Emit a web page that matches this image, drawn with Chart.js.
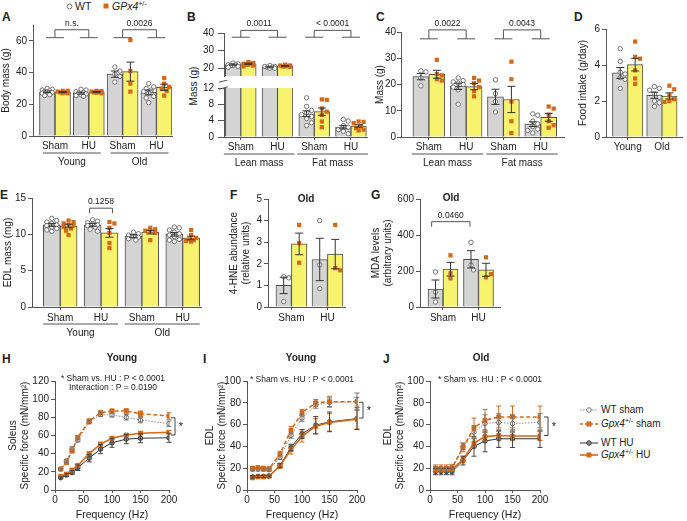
<!DOCTYPE html>
<html>
<head>
<meta charset="utf-8">
<script src="https://cdn.jsdelivr.net/npm/chart.js@4.4.1/dist/chart.umd.min.js"></script>
<style>
  html, body { margin: 0; padding: 0; background: #fff; }
  body { position: relative; width: 687px; height: 521px; overflow: hidden; font-family: 'Liberation Sans', Arial, sans-serif; color: #222; }
  canvas { position: absolute; }
  .tag { position: absolute; font-weight: bold; font-size: 12px; line-height: 12px; }
  .note { position: absolute; font-size: 10px; line-height: 12px; white-space: nowrap; }
  .note svg { vertical-align: middle; margin-right: 3px; }
  .note sup { font-size: 7px; vertical-align: 4px; line-height: 0; }
  .rot { position: absolute; font-size: 10px; white-space: nowrap; transform: translate(-50%, -50%) rotate(-90deg); }
</style>
</head>
<body>
<div class="tag" style="left:2px;top:11px">A</div>
<div class="tag" style="left:187px;top:11px">B</div>
<div class="tag" style="left:376px;top:11px">C</div>
<div class="tag" style="left:574px;top:11px">D</div>
<div class="tag" style="left:0px;top:189px">E</div>
<div class="tag" style="left:230px;top:189px">F</div>
<div class="tag" style="left:371px;top:189px">G</div>
<div class="tag" style="left:2px;top:353px">H</div>
<div class="tag" style="left:203px;top:353px">I</div>
<div class="tag" style="left:383px;top:353px">J</div>

<svg style="position:absolute;left:66px;top:3px" width="7" height="7"><circle cx="3.5" cy="3.5" r="2.4" fill="#fff" stroke="#666" stroke-width="0.9"/></svg>
<div class="note" style="left:75px;top:0px;font-size:10.5px">WT</div>
<svg style="position:absolute;left:103px;top:3px" width="6" height="6"><rect x="0.5" y="0.5" width="5" height="5" fill="#d26a1a"/></svg>
<div class="note" style="left:112px;top:0px;font-size:10.5px"><i>GPx4</i><sup>+/-</sup></div>

<div class="rot" style="left:193px;top:86px">Mass (g)</div>

<div class="note" style="left:580px;top:404px"><svg width="18" height="10"><line x1="0" y1="5" x2="18" y2="5" stroke="#888" stroke-width="1" stroke-dasharray="1.5,1.5"/><circle cx="9" cy="5" r="2.3" fill="#fff" stroke="#666" stroke-width="0.9"/></svg>WT sham</div>
<div class="note" style="left:580px;top:418px"><svg width="18" height="10"><line x1="0" y1="5" x2="18" y2="5" stroke="#d26a1a" stroke-width="1.6" stroke-dasharray="3,2"/><rect x="6.5" y="2.5" width="5" height="5" fill="#d26a1a"/></svg><i>Gpx4</i><sup>+/-</sup> sham</div>
<div class="note" style="left:580px;top:437px"><svg width="18" height="10"><line x1="0" y1="5" x2="18" y2="5" stroke="#333" stroke-width="1"/><circle cx="9" cy="5" r="2.3" fill="#8a8a8a" stroke="#333" stroke-width="0.9"/></svg>WT HU</div>
<div class="note" style="left:580px;top:449px"><svg width="18" height="10"><line x1="0" y1="5" x2="18" y2="5" stroke="#d26a1a" stroke-width="1.6"/><rect x="6.5" y="2.5" width="5" height="5" fill="#d26a1a"/></svg><i>Gpx4</i><sup>+/-</sup> HU</div>

<script>
'use strict'

const FONT = "'Liberation Sans', Arial, sans-serif"
const ORANGE = '#d26a1a'
const YELLOW = '#f7f36e'
const GREY = '#d4d4d4'
const EDGE = '#4d4d4d'
const AXIS = '#555'
const INK = '#222'

Chart.defaults.font.family = FONT
Chart.defaults.font.size = 10
Chart.defaults.color = INK

// ---- A: body mass
const aLabels = ['Sham', 'HU', 'Sham', 'HU']
const aGroups = ['Young', 'Old']
const aWt = [27.9, 27.0, 39.0, 27.5]
const aWtErr = [0.5, 0.6, 2.0, 1.5]
const aKo = [27.7, 27.8, 40.6, 30.7]
const aKoErr = [0.3, 0.3, 6.0, 2.0]
const aWtPts = [[30, 29.5, 29, 28.5, 28, 28, 27.5, 27, 26, 25.5], [29.5, 29, 28, 27.5, 27, 26.5, 26, 25.5, 25], [43.5, 41, 39, 37.5, 34], [33, 31, 30, 29, 28, 27, 25, 24, 21]]
const aKoPts = [[28.5, 28.5, 28, 27.5, 27.5, 27, 27], [28.5, 28.3, 28, 27.8, 27.5, 27.3, 27], [60.5, 41, 33, 28], [36.5, 33, 31, 30, 28.5, 25.5]]

// ---- B: lean / fat mass (broken axis)
const bLabels = ['Sham', 'HU', 'Sham', 'HU']
const bGroups = ['Lean mass', 'Fat mass']
const bWt = [22.0, 20.5, 5.7, 2.4]
const bWtErr = [0.3, 0.3, 0.7, 0.4]
const bKo = [22.5, 21.3, 6.2, 2.7]
const bKoErr = [0.3, 0.2, 0.9, 0.3]
const bWtPts = [[23, 22.5, 22, 22, 21.5, 21.5, 21, 20.5], [21.5, 21, 21, 20.5, 20.5, 20, 20], [9.6, 7.5, 6.5, 6, 5.5, 5, 4.5, 3.5, 2.8], [4.3, 3.9, 2.8, 2.4, 1.8, 1.4, 0.8]]
const bKoPts = [[23.5, 23, 22.5, 22.5, 22, 22, 21.5, 21], [22, 21.5, 21.5, 21.3, 21, 21, 20.8], [9.2, 9.1, 7.0, 6.2, 5.4, 3.8, 2.4], [3.8, 3.7, 3.4, 2.6, 2.2, 1.8, 1.6]]

// ---- C: lean / fat mass
const cLabels = ['Sham', 'HU', 'Sham', 'HU']
const cGroups = ['Lean mass', 'Fat mass']
const cWt = [23.0, 19.3, 15.3, 4.9]
const cWtErr = [1.2, 1.2, 2.9, 0.9]
const cKo = [23.9, 19.2, 14.3, 7.5]
const cKoErr = [1.5, 1.2, 5.0, 1.5]
const cWtPts = [[25.2, 24.8, 22.5, 19.5], [22.5, 21.5, 21, 20.5, 20, 19, 18, 12.5], [21.8, 16.5, 13.5, 9.5], [8.8, 8.3, 6, 5, 4, 3, 2.5, 1.5]]
const cKoPts = [[29.4, 24, 23.5, 22, 21.5], [22.5, 21.5, 20.5, 19, 17.5, 15.5], [28.7, 22, 13.5, 6, 1.5], [11.6, 10.8, 8.5, 6, 4.5, 3.5]]

// ---- D: food intake
const dLabels = ['Young', 'Old']
const dWt = [3.56, 2.32]
const dWtErr = [0.3, 0.17]
const dKo = [4.02, 2.28]
const dKoErr = [0.35, 0.17]
const dWtPts = [[4.9, 4.2, 3.6, 3.5, 3.3, 3.2, 2.7], [2.8, 2.7, 2.6, 2.4, 2.2, 2.0, 1.9, 1.7]]
const dKoPts = [[5.3, 4.45, 4.35, 3.7, 3.25, 2.95], [2.85, 2.65, 2.3, 2.1, 2.0, 1.95]]

// ---- E: EDL mass
const eLabels = ['Sham', 'HU', 'Sham', 'HU']
const eGroups = ['Young', 'Old']
const eWt = [11.3, 11.3, 9.75, 10.0]
const eWtErr = [0.2, 0.2, 0.2, 0.25]
const eKo = [11.15, 10.2, 10.3, 9.5]
const eKoErr = [0.25, 0.6, 0.25, 0.25]
const eWtPts = [[12.2, 11.9, 11.7, 11.5, 11.3, 11.2, 11, 10.8, 10.6, 10.4], [12, 11.8, 11.6, 11.4, 11.3, 11.2, 11, 10.7, 10.4], [10.3, 10.1, 9.9, 9.7, 9.6, 9.4, 9.2], [11, 10.9, 10.6, 10.3, 10.1, 9.9, 9.7, 9.3, 9.2, 9]]
const eKoPts = [[11.9, 11.7, 11.5, 11.3, 11.2, 11, 10.8, 10.5, 9.9], [11.7, 11.5, 10.9, 10.2, 8.8, 8.1], [10.9, 10.7, 10.5, 10.4, 10.2, 9.2], [10.6, 9.9, 9.5, 9.3, 9.2, 9.1, 9.0]]

// ---- F: 4-HNE (old)
const fLabels = ['Sham', 'HU']
const fWt = [1.0, 2.2]
const fWtErr = [0.38, 0.98]
const fKo = [2.92, 2.45]
const fKoErr = [0.5, 0.68]
const fWtPts = [[1.4, 1.35, 0.25], [4.0, 1.95, 0.85]]
const fKoPts = [[3.8, 2.95, 2.05], [3.8, 1.8, 1.7]]

// ---- G: MDA (old)
const gLabels = ['Sham', 'HU']
const gWt = [100, 265]
const gWtErr = [50, 48]
const gKo = [210, 207]
const gKoErr = [38, 36]
const gWtPts = [[195, 83, 28], [359, 233, 206]]
const gKoPts = [[287, 187, 159], [276, 165, 183]]

// ---- H, I, J: force-frequency
const freqs = [10, 20, 30, 40, 60, 80, 100, 125, 150, 200]
const freqTicks = [0, 50, 100, 150, 200]

const hWtSham = [23, 32, 45, 55, 75, 83, 82.5, 80, 77, 73]
const hKoSham = [23, 30, 43, 58, 76, 85, 87, 87, 84, 81.5]
const hWtHu = [13.5, 16.5, 19.5, 24.5, 35, 45, 52, 56, 57, 57.5]
const hKoHu = [15, 17.5, 22, 27, 40, 50.5, 57, 60.5, 62.5, 63.5]
const hWtShamErr = [1, 1.5, 2.5, 2, 2, 2, 2, 3, 3, 3]
const hKoShamErr = [1, 1.5, 2, 2, 2, 2, 2, 2.5, 3, 3.5]
const hWtHuErr = [1, 1.5, 2, 3, 4, 5, 5, 5, 5, 5]
const hKoHuErr = [1, 1, 1.5, 1.5, 2, 2, 1.5, 1.5, 1.5, 2]

const iWtSham = [19, 19, 19, 18.5, 30, 50, 66, 78, 80.5, 81]
const iKoSham = [20, 20.5, 20, 19.5, 33, 55, 71, 80, 81, 81]
const iWtHu = [12, 12.5, 12.5, 12.8, 22.5, 39, 51.5, 59.5, 62.5, 65.5]
const iKoHu = [11.2, 12, 12, 12.8, 22, 37, 49, 58.5, 62, 65]
const iWtShamErr = [1.5, 1.5, 1.5, 1.5, 2, 2.5, 3, 3, 4, 8]
const iKoShamErr = [1.5, 1.5, 1.5, 1.5, 2.5, 3.5, 3, 3, 5, 4]
const iWtHuErr = [1, 1, 1, 1, 2, 3, 4, 8, 9, 10]
const iKoHuErr = [1, 1, 1, 1, 2, 4, 5, 7, 8, 9]

const jWtSham = [19, 19, 19, 19, 40, 53, 61, 62, 61, 62]
const jKoSham = [20, 20, 20, 20.5, 39, 57, 64, 67, 67, 67]
const jWtHu = [17, 17, 17, 17, 27, 40, 45, 47, 47, 47]
const jKoHu = [18, 18.5, 19, 19, 28, 43, 49, 50, 49.5, 49.5]
const jWtShamErr = [2, 2, 2, 2, 3, 6, 8, 8, 8, 8]
const jKoShamErr = [3, 3, 3, 3, 4, 9, 10, 10, 10, 10]
const jWtHuErr = [3, 3, 3, 3, 4, 9, 10, 8, 8, 8]
const jKoHuErr = [2, 2, 2, 2, 3, 4, 4, 4, 4, 4]

const forceTitle = 'Specific force (mN/mm\u00b2)'

// ---------------------------------------------------------------

function text(ctx, s, x, y, size, bold) {
  ctx.save()
  ctx.font = (bold ? 'bold ' : '') + size + 'px ' + FONT
  ctx.fillStyle = INK
  ctx.textAlign = 'center'
  ctx.textBaseline = 'middle'
  ctx.fillText(s, x, y)
  ctx.restore()
}

function seg(ctx, xa, ya, xb, yb) {
  ctx.beginPath()
  ctx.moveTo(xa, ya)
  ctx.lineTo(xb, yb)
  ctx.stroke()
}

// spread dots sideways so they don't sit on top of each other (layout only)
function swarm(vals, pxY, r, maxOff) {
  const placed = []
  return vals.map(v => {
    const y = v * pxY
    let best = 0, bestD = -1
    for (let k = 0; k <= 10; k++) {
      for (const c of (k ? [k * r, -k * r] : [0])) {
        if (Math.abs(c) > maxOff) continue
        const dmin = placed.reduce((m, p) => Math.min(m, Math.hypot(p.x - c, p.y - y)), Infinity)
        if (dmin >= 2 * r) { placed.push({ x: c, y }); return c }
        if (dmin > bestD) { bestD = dmin; best = c }
      }
    }
    placed.push({ x: best, y })
    return best
  })
}

const errPlugin = {
  id: 'errbars',
  afterDatasetsDraw(chart) {
    const { ctx, chartArea: a, scales: { y } } = chart
    ctx.save()
    ctx.beginPath()
    ctx.rect(a.left - 10, a.top - 2, a.right - a.left + 20, a.bottom - a.top + 2)
    ctx.clip()
    chart.data.datasets.forEach((ds, i) => {
      if (!ds.errors) return
      const meta = chart.getDatasetMeta(i)
      ctx.strokeStyle = ds.errColor
      ctx.lineWidth = 1
      meta.data.forEach((el, j) => {
        const v = ds.data[j].y, e = ds.errors[j], w = ds.capW
        const t = y.getPixelForValue(v + e), b = y.getPixelForValue(v - e)
        seg(ctx, el.x, t, el.x, b)
        seg(ctx, el.x - w, t, el.x + w, t)
        seg(ctx, el.x - w, b, el.x + w, b)
      })
    })
    ctx.restore()
  }
}

function makeCanvas(p) {
  const cv = document.createElement('canvas')
  const W = p.right - p.left, H = p.bottom - p.top
  cv.width = W
  cv.height = H
  Object.assign(cv.style, { left: p.left + 'px', top: p.top + 'px', width: W + 'px', height: H + 'px' })
  document.body.appendChild(cv)
  return cv
}

function yScale(p) {
  const [x0] = p.area
  return {
    type: 'linear', min: p.yr[0], max: p.yr[1],
    afterBuildTicks: s => { s.ticks = p.yTicks.map(v => ({ value: v })) },
    afterFit: s => { s.width = x0 - p.left; s.paddingTop = 0; s.paddingBottom = 0 },
    ticks: { padding: p.ypad || 2, color: INK, font: { size: 10 } },
    grid: { drawOnChartArea: false, tickLength: p.ytl || 4, color: AXIS },
    border: { color: AXIS },
    title: p.ytitle
      ? { display: true, text: p.ytitle, padding: 0, color: INK, font: { size: 10, lineHeight: 1.2 } }
      : { display: false }
  }
}

function barPanel(p) {
  const [x0, y0, x1, y1] = p.area
  const cv = makeCanvas(p)
  const pxX = (x1 - x0) / (p.xr[1] - p.xr[0])
  const pxY = (y1 - y0) / (p.yr[1] - p.yr[0])
  const d = (p.bw / 2) / pxX
  const pts = (groups, side) => groups.flatMap((vals, i) =>
    swarm(vals, pxY, 2.5, p.bw / 2 - 2.5).map((o, k) => ({ x: i + side * d + o / pxX, y: vals[k] })))
  const bars = (vals, side) => vals.map((v, i) => ({ x: i + side * d, y: v }))

  const deco = {
    id: 'deco',
    afterDraw(chart) {
      const { ctx, chartArea: a, scales: { x, y } } = chart
      const X = v => x.getPixelForValue(v), Y = v => y.getPixelForValue(v)
      ctx.save()
      ctx.strokeStyle = AXIS
      ctx.lineWidth = 1
      ;(p.groups || []).forEach((g, k) => {
        const xa = X(2 * k) - p.gext, xb = X(2 * k + 1) + p.gext
        seg(ctx, xa, a.bottom + 17, xb, a.bottom + 17)
        text(ctx, g, (X(2 * k) + X(2 * k + 1)) / 2, a.bottom + 26, 10)
      })
      ;(p.brackets || []).forEach(b => {
        const xa = X(b.a), xb = X(b.b), yf = Y(b.foot), yt = Y(b.top)
        if (b.kind === 'feet') {
          seg(ctx, xa - 9, yf, xa + 9, yf)
          seg(ctx, xb - 9, yf, xb + 9, yf)
        }
        seg(ctx, xa, yf, xa, yt)
        seg(ctx, xb, yf, xb, yt)
        seg(ctx, xa, yt, xb, yt)
        text(ctx, b.text, (xa + xb) / 2, yt - 6.5, 8.5)
      })
      ;(p.breaks || []).forEach(yy => {
        const ly = yy - p.top
        seg(ctx, a.left - 5, ly + 1.2, a.left + 4, ly - 1.2)
      })
      if (p.heading) text(ctx, p.heading.text, p.heading.x - p.left, p.heading.y - p.top, 10, true)
      ctx.restore()
    }
  }

  new Chart(cv, {
    type: 'bar',
    data: {
      datasets: [
        { type: 'scatter', data: pts(p.wtPts, -1), pointStyle: 'circle', pointRadius: 2.2, pointBackgroundColor: '#fff', pointBorderColor: '#666', pointBorderWidth: 0.9, order: 0 },
        { type: 'scatter', data: pts(p.koPts, 1), pointStyle: 'rect', pointRadius: 3, pointBackgroundColor: ORANGE, pointBorderWidth: 0, order: 0 },
        { type: 'bar', data: bars(p.wt, -1), errors: p.wtErr, errColor: '#333', capW: 4, backgroundColor: GREY, borderColor: EDGE, borderWidth: 1, barThickness: p.bw, grouped: false, clip: 0, order: 1 },
        { type: 'bar', data: bars(p.ko, 1), errors: p.koErr, errColor: '#333', capW: 4, backgroundColor: YELLOW, borderColor: EDGE, borderWidth: 1, barThickness: p.bw, grouped: false, clip: 0, order: 1 }
      ]
    },
    options: {
      responsive: false, animation: false, events: [],
      layout: { padding: { left: 0, top: y0 - p.top, right: p.right - x1, bottom: 0 } },
      plugins: { legend: { display: false }, tooltip: { enabled: false } },
      scales: {
        x: {
          type: 'linear', display: p.showX !== false, min: p.xr[0], max: p.xr[1], offset: false,
          afterBuildTicks: s => { s.ticks = p.labels.map((_, i) => ({ value: i })) },
          afterFit: s => { s.height = p.bottom - y1; s.paddingLeft = 0; s.paddingRight = 0 },
          ticks: { callback: v => p.labels[v], autoSkip: false, maxRotation: 0, padding: p.xpad || 1, color: INK, font: { size: 10 } },
          grid: { display: true, drawOnChartArea: false, drawTicks: true, tickLength: 3, color: AXIS, offset: false },
          border: { color: AXIS }
        },
        y: yScale(p)
      }
    },
    plugins: [errPlugin, deco]
  })
}

const SERIES = {
  ws: { line: '#8c8c8c', w: 1, dash: [1.5, 1.5], pt: 'circle', r: 2.2, fill: '#fff', edge: '#666', err: '#777' },
  ks: { line: ORANGE, w: 1.6, dash: [4, 2.5], pt: 'rect', r: 2.8, fill: ORANGE, edge: ORANGE, err: ORANGE },
  wh: { line: '#333', w: 1, dash: [], pt: 'circle', r: 2.2, fill: '#8a8a8a', edge: '#333', err: '#444' },
  kh: { line: ORANGE, w: 1.6, dash: [], pt: 'rect', r: 2.8, fill: ORANGE, edge: ORANGE, err: ORANGE }
}

function linePanel(p) {
  const [x0, y0, x1, y1] = p.area
  const cv = makeCanvas(p)
  const mk = (vals, errs, s) => ({
    type: 'line', data: freqs.map((f, i) => ({ x: f, y: vals[i] })), errors: errs, errColor: s.err, capW: 2.5,
    borderColor: s.line, borderWidth: s.w, borderDash: s.dash, pointStyle: s.pt, pointRadius: s.r,
    pointBackgroundColor: s.fill, pointBorderColor: s.edge, pointBorderWidth: 1, tension: 0, fill: false
  })

  const deco = {
    id: 'deco',
    afterDraw(chart) {
      const { ctx, scales: { y } } = chart
      ctx.save()
      text(ctx, p.heading.text, p.heading.x - p.left, p.heading.y - p.top, 10, true)
      p.notes.forEach(n => text(ctx, n.text, n.x - p.left, n.y - p.top, 8.5))
      const bx = p.star.x - p.left, t = y.getPixelForValue(p.star.y[0]), b = y.getPixelForValue(p.star.y[1])
      ctx.strokeStyle = '#444'
      ctx.lineWidth = 1
      seg(ctx, bx - 4, t, bx, t)
      seg(ctx, bx, t, bx, b)
      seg(ctx, bx - 4, b, bx, b)
      text(ctx, '*', bx + 6, (t + b) / 2 + 1, 11)
      ctx.restore()
    }
  }

  new Chart(cv, {
    type: 'line',
    data: {
      datasets: [
        mk(p.kh, p.khE, SERIES.kh),
        mk(p.wh, p.whE, SERIES.wh),
        mk(p.ks, p.ksE, SERIES.ks),
        mk(p.ws, p.wsE, SERIES.ws)
      ]
    },
    options: {
      responsive: false, animation: false, events: [],
      layout: { padding: { left: 0, top: y0 - p.top, right: p.right - x1, bottom: 0 } },
      plugins: { legend: { display: false }, tooltip: { enabled: false } },
      scales: {
        x: {
          type: 'linear', min: 0, max: 200,
          afterBuildTicks: s => { s.ticks = freqTicks.map(v => ({ value: v })) },
          afterFit: s => { s.height = p.bottom - y1; s.paddingLeft = 0; s.paddingRight = 0 },
          ticks: { padding: 1, color: INK, font: { size: 10 }, maxRotation: 0 },
          grid: { drawOnChartArea: false, tickLength: 3, color: AXIS },
          border: { color: AXIS },
          title: { display: true, text: 'Frequency (Hz)', padding: 0, color: INK, font: { size: 10.5 } }
        },
        y: yScale(p)
      }
    },
    plugins: [errPlugin, deco]
  })
}

// ---------------------------------------------------------------

barPanel({
  area: [33, 25, 172, 136], left: 0, top: 14, right: 177, bottom: 172,
  xr: [-0.65, 3.46], yr: [0, 70], yTicks: [0, 20, 40, 60], bw: 15.5,
  labels: aLabels, wt: aWt, wtErr: aWtErr, ko: aKo, koErr: aKoErr, wtPts: aWtPts, koPts: aKoPts,
  ytitle: 'Body mass (g)', groups: aGroups, gext: 12,
  brackets: [
    { a: 0, b: 1, foot: 62, top: 67, text: 'n.s.', kind: 'feet' },
    { a: 2, b: 3, foot: 62, top: 67, text: '0.0026', kind: 'feet' }
  ]
})

barPanel({
  area: [224, 33, 369, 81], left: 190, top: 17, right: 372, bottom: 81, showX: false,
  xr: [-0.457, 3.44], yr: [15.5, 40], yTicks: [20, 30, 40], bw: 15.5, ytl: 6, ypad: 4,
  labels: bLabels, wt: bWt, wtErr: bWtErr, ko: bKo, koErr: bKoErr, wtPts: bWtPts, koPts: bKoPts,
  brackets: [
    { a: 0, b: 1, foot: 37.6, top: 41.5, text: '0.0011', kind: 'feet' },
    { a: 2, b: 3, foot: 37.6, top: 41.5, text: '< 0.0001', kind: 'feet' }
  ]
})

barPanel({
  area: [224, 88, 369, 137], left: 190, top: 80, right: 372, bottom: 172,
  xr: [-0.457, 3.44], yr: [0, 12], yTicks: [0, 4, 8, 12], bw: 15.5, ytl: 6, ypad: 4,
  labels: bLabels, wt: bWt, wtErr: bWtErr, ko: bKo, koErr: bKoErr, wtPts: bWtPts, koPts: bKoPts,
  groups: bGroups, gext: 17, breaks: [81, 88]
})

barPanel({
  area: [401, 32, 565, 137], left: 374, top: 17, right: 569, bottom: 172,
  xr: [-0.747, 3.627], yr: [0, 40], yTicks: [0, 10, 20, 30, 40], bw: 16, ypad: 1,
  labels: cLabels, wt: cWt, wtErr: cWtErr, ko: cKo, koErr: cKoErr, wtPts: cWtPts, koPts: cKoPts,
  ytitle: 'Mass (g)', groups: cGroups, gext: 17,
  brackets: [
    { a: 0, b: 1, foot: 37.4, top: 40.8, text: '0.0022', kind: 'feet' },
    { a: 2, b: 3, foot: 37.4, top: 40.8, text: '0.0043', kind: 'feet' }
  ]
})

barPanel({
  area: [606, 29, 685, 137], left: 577, top: 21, right: 687, bottom: 154,
  xr: [-0.634, 1.59], yr: [0, 6], yTicks: [0, 2, 4, 6], bw: 15.5,
  labels: dLabels, wt: dWt, wtErr: dWtErr, ko: dKo, koErr: dKoErr, wtPts: dWtPts, koPts: dKoPts,
  ytitle: 'Food intake (g/day)'
})

barPanel({
  area: [32, 198, 203, 307], left: 2, top: 190, right: 206, bottom: 340,
  xr: [-0.69, 3.45], yr: [0, 15], yTicks: [0, 5, 10, 15], bw: 17, xpad: 2,
  labels: eLabels, wt: eWt, wtErr: eWtErr, ko: eKo, koErr: eKoErr, wtPts: eWtPts, koPts: eKoPts,
  ytitle: 'EDL mass (mg)', groups: eGroups, gext: 17,
  brackets: [{ a: 0.72, b: 1.28, foot: 12.9, top: 13.6, text: '0.1258', kind: 'simple' }]
})

barPanel({
  area: [268, 199, 345, 307], left: 228, top: 190, right: 350, bottom: 326,
  xr: [-0.65, 1.486], yr: [0, 5], yTicks: [0, 1, 2, 3, 4, 5], bw: 15.5, xpad: 2,
  labels: fLabels, wt: fWt, wtErr: fWtErr, ko: fKo, koErr: fKoErr, wtPts: fWtPts, koPts: fKoPts,
  ytitle: ['4-HNE abundance', '(relative units)'],
  heading: { text: 'Old', x: 306, y: 199 }
})

barPanel({
  area: [420, 199, 500, 307], left: 370, top: 190, right: 505, bottom: 326,
  xr: [-0.648, 1.606], yr: [0, 600], yTicks: [0, 200, 400, 600], bw: 15, xpad: 2,
  labels: gLabels, wt: gWt, wtErr: gWtErr, ko: gKo, koErr: gKoErr, wtPts: gWtPts, koPts: gKoPts,
  ytitle: ['MDA levels', '(arbitrary units)'],
  heading: { text: 'Old', x: 451, y: 198 },
  brackets: [{ a: -0.32, b: 0.76, foot: 446, top: 474, text: '0.0460', kind: 'simple' }]
})

linePanel({
  area: [55, 381, 169, 490], left: 7, top: 350, right: 192, bottom: 521,
  yr: [0, 120], yTicks: [0, 20, 40, 60, 80, 100, 120],
  ytitle: ['Soleus', forceTitle],
  ws: hWtSham, wsE: hWtShamErr, ks: hKoSham, ksE: hKoShamErr, wh: hWtHu, whE: hWtHuErr, kh: hKoHu, khE: hKoHuErr,
  heading: { text: 'Young', x: 122, y: 358 },
  notes: [{ text: '* Sham vs. HU : P < 0.0001', x: 113, y: 379 }, { text: 'Interaction : P = 0.0190', x: 113, y: 388 }],
  star: { x: 175, y: [79.5, 60.5] }
})

linePanel({
  area: [247, 381, 357, 490], left: 204, top: 350, right: 378, bottom: 521,
  yr: [0, 100], yTicks: [0, 20, 40, 60, 80, 100],
  ytitle: ['EDL', forceTitle],
  ws: iWtSham, wsE: iWtShamErr, ks: iKoSham, ksE: iKoShamErr, wh: iWtHu, whE: iWtHuErr, kh: iKoHu, khE: iKoHuErr,
  heading: { text: 'Young', x: 301, y: 358 },
  notes: [{ text: '* Sham vs. HU : P < 0.0001', x: 302, y: 380 }],
  star: { x: 363, y: [80.5, 66] }
})

linePanel({
  area: [430, 381, 540, 490], left: 382, top: 350, right: 562, bottom: 521,
  yr: [0, 100], yTicks: [0, 20, 40, 60, 80, 100],
  ytitle: ['EDL', forceTitle],
  ws: jWtSham, wsE: jWtShamErr, ks: jKoSham, ksE: jKoShamErr, wh: jWtHu, whE: jWtHuErr, kh: jKoHu, khE: jKoHuErr,
  heading: { text: 'Old', x: 481, y: 358 },
  notes: [{ text: '* Sham vs. HU : P < 0.0001', x: 490, y: 380 }],
  star: { x: 548, y: [67, 50] }
})
</script>
</body>
</html>
